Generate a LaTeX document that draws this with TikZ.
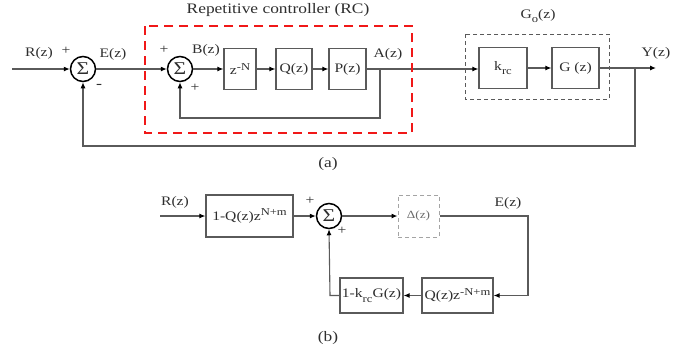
\documentclass[tikz,border=0pt]{standalone}
\usepackage{fontspec}
\setmainfont{Liberation Serif}[FakeStretch=1.2]
\usetikzlibrary{arrows.meta}
\definecolor{ln}{HTML}{5A5A5A}
\definecolor{tx}{HTML}{2E2E2E}
\definecolor{rcred}{HTML}{F01818}
\newcommand{\sups}[1]{\raisebox{4.5pt}{\fontsize{10.5}{11}\selectfont #1}}
\newcommand{\subs}[1]{\raisebox{-4.5pt}{\fontsize{10.5}{11}\selectfont #1}}
\tikzset{
  x=1pt,y=-1pt,
  every node/.style={text=tx,font=\fontsize{13}{15}\selectfont},
  blk/.style={draw=ln,line width=1.2pt,minimum width=#1,minimum height=41pt,inner sep=0pt},
  sumc/.style={draw=black,line width=1.5pt,circle,minimum size=25pt,inner sep=0pt,font=\fontsize{18}{18}\selectfont},
  wire/.style={draw=ln,line width=1.1pt},
  arr/.style={wire,-{Latex[length=6pt,width=5pt,color=black]}},
  lbl/.style={inner sep=0pt},
}
\begin{document}
\begin{tikzpicture}
\useasboundingbox (0,0) rectangle (695,354);
% ---------- (a) ----------
\coordinate (inA) at (12,69);
\node[sumc] (s1) at (83,69) {Σ};
\node[sumc] (s2) at (180,69) {Σ};
\node[blk=32pt] (zn) at (240,69) {z\sups{-N}};
\node[blk=36pt] (qz) at (294,69) {Q(z)};
\node[blk=37pt] (pz) at (347.5,69) {P(z)};
\node[blk=48pt] (krc) at (503,68) {k\subs{rc}};
\node[blk=47pt] (gz) at (575.5,68) {G (z)};
\coordinate (ya) at (380,69);
\coordinate (yb) at (380,118);
\coordinate (yc) at (180,118);
\coordinate (yo) at (635,68);
\coordinate (out) at (656,68);
\coordinate (fb1) at (635,146);
\coordinate (fb2) at (83,146);

\draw[arr] (inA) -- (s1.west);
\draw[arr] (s1.east) -- (s2.west);
\draw[arr] (s2.east) -- (zn.west);
\draw[arr] (zn.east) -- (qz.west);
\draw[arr] (qz.east) -- (pz.west);
\draw[arr] (pz.east) -- (krc.west |- pz.east);
\draw[arr] (krc.east) -- (gz.west);
\draw[arr] (gz.east) -- (out);
\draw[arr] (ya) -- (yb) -- (yc) -- (s2.south);
\draw[arr] (yo) -- (fb1) -- (fb2) -- (s1.south);

% boxes
\draw[rcred,line width=2.6pt,dash pattern=on 9pt off 6pt] (145,26) rectangle (412,133);
\draw[ln,line width=1pt,dash pattern=on 4pt off 3pt] (465,34) rectangle (609,99);

% labels
\node[lbl] (tR) at (39,53) {R(z)};
\node[lbl] (tp1) at (66,51) {+};
\node[lbl] (tE) at (113,54) {E(z)};
\node[lbl,font=\fontsize{15}{15}\selectfont] (tm1) at (99,86) {-};
\node[lbl] (tp2) at (164,50) {+};
\node[lbl] (tp3) at (195,88) {+};
\node[lbl] (tB) at (206,50) {B(z)};
\node[lbl] (tA) at (388,54) {A(z)};
\node[lbl] (tY) at (656,53) {Y(z)};
\node[lbl] (tG) at (538,16) {G\subs{o}(z)};
\node[lbl,font=\fontsize{14.5}{16}\selectfont] (tRC) at (278,10) {Repetitive controller (RC)};
\node[lbl,font=\fontsize{14.5}{16}\selectfont] (ta) at (328,164) {(a)};

% ---------- (b) ----------
\coordinate (inB) at (160,216);
\node[blk=87pt,minimum height=42pt] (b1) at (249.5,216) {1-Q(z)z\sups{N+m}};
\node[sumc] (s3) at (329,216) {Σ};
\node[draw=ln!55,text=ln!90,line width=1pt,dash pattern=on 4pt off 3pt,minimum width=41pt,minimum height=42pt,inner sep=0pt,font=\fontsize{11}{13}\selectfont] (dz) at (418.5,216) {Δ(z)};
\node[blk=71pt,minimum height=35pt] (b2) at (457.5,295.5) {Q(z)z\sups{-N+m}};
\node[blk=63pt,minimum height=35pt] (b3) at (371.5,295.5) {1-k\subs{rc}G(z)};
\coordinate (e1) at (528,216);
\coordinate (e2) at (528,295.5);
\coordinate (f1) at (330,295.5);

\draw[arr] (inB) -- (b1.west);
\draw[arr] (b1.east) -- (s3.west);
\draw[arr] (s3.east) -- (dz.west);
\draw[arr] (dz.east) -- (e1) -- (e2) -- (b2.east);
\draw[arr] (b2.west) -- (b3.east);
\draw[arr] (b3.west) -- (f1) -- (s3.south);

\node[lbl] (tR2) at (175,202) {R(z)};
\node[lbl] (tE2) at (508,203) {E(z)};
\node[lbl] (tp4) at (310,201) {+};
\node[lbl] (tp5) at (342,231) {+};
\node[lbl,font=\fontsize{14.5}{16}\selectfont] (tb) at (328,338) {(b)};
\end{tikzpicture}
\end{document}
